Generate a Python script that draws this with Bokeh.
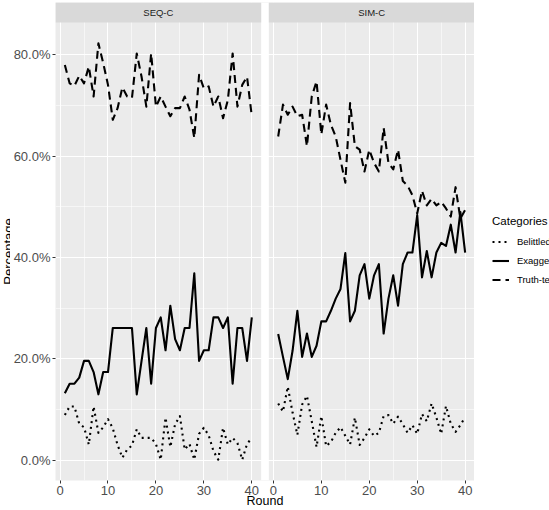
import math
from bokeh.plotting import figure
from bokeh.layouts import row
from bokeh.models import (Range1d, FixedTicker, NumeralTickFormatter, BoxAnnotation,
                          Label, Legend, LegendItem, ColumnDataSource)
from bokeh.embed import file_html
from bokeh.resources import INLINE

# ---------------- data ----------------
rounds = list(range(1, 41))
panels = ["SEQ-C", "SIM-C"]
categories = ["Belittled", "Exaggerated", "Truth-telling"]

seq_belittled = [8.9, 10.6, 10.6, 7.2, 6.5, 3.1, 10.6, 5.4, 6.5, 8.1,
                 6.3, 3.0, 0.5, 2.1, 2.9, 6.1, 4.4, 4.4, 4.4, 3.2,
                 0.1, 8.4, 2.6, 7.1, 8.7, 2.1, 3.2, 0.1, 5.2, 6.4,
                 4.9, 1.8, 0.1, 6.4, 3.1, 4.4, 3.4, 0.1, 3.2, 4.4]
seq_exaggerated = [13.2, 15.1, 15.1, 16.3, 19.6, 19.6, 17.4, 13.0, 17.4, 17.4,
                   26.1, 26.1, 26.1, 26.1, 26.1, 13.0, 19.6, 26.1, 15.1, 26.1,
                   28.2, 21.7, 30.5, 23.9, 21.7, 26.1, 26.1, 36.9, 19.6, 21.7,
                   21.7, 28.2, 28.2, 26.1, 28.2, 15.1, 26.1, 26.1, 19.6, 28.2]
seq_truth = [78.0, 74.4, 73.9, 75.9, 74.4, 77.7, 71.8, 82.3, 78.4, 74.1,
             67.2, 69.5, 73.6, 71.8, 71.5, 80.3, 75.7, 69.8, 80.3, 69.8,
             71.8, 69.8, 67.9, 69.5, 69.5, 71.8, 69.2, 63.6, 76.1, 73.4,
             73.8, 69.8, 71.8, 67.5, 71.1, 80.3, 69.8, 74.1, 75.7, 67.9]

sim_belittled = [11.2, 9.6, 14.5, 9.4, 5.0, 11.0, 12.7, 7.7, 2.6, 8.7,
                 2.8, 3.6, 5.4, 6.5, 4.8, 3.1, 8.4, 3.0, 4.4, 6.1,
                 4.8, 5.4, 8.7, 8.9, 7.2, 8.6, 7.1, 5.4, 6.9, 5.2,
                 9.1, 7.7, 11.2, 8.4, 5.2, 10.7, 7.2, 5.6, 6.9, 8.5]
sim_exaggerated = [24.9, 20.4, 16.0, 21.6, 29.5, 20.4, 25.0, 20.4, 22.6, 27.4,
                   27.4, 29.5, 31.9, 33.8, 40.9, 27.4, 29.5, 36.5, 38.7, 31.9,
                   36.5, 38.7, 25.0, 31.9, 36.5, 30.5, 38.7, 41.0, 41.0, 48.4,
                   36.1, 41.3, 36.1, 41.0, 42.9, 42.3, 46.5, 41.0, 49.0, 41.0]
sim_truth = [63.9, 70.2, 68.2, 69.8, 67.9, 68.2, 62.0, 71.8, 74.8, 64.3,
             70.2, 66.2, 63.9, 59.3, 54.8, 70.5, 62.0, 61.3, 57.0, 61.3,
             58.7, 57.0, 65.6, 58.7, 57.4, 61.3, 55.1, 54.2, 52.3, 48.7,
             53.2, 50.3, 51.6, 50.3, 51.0, 49.7, 48.1, 53.9, 47.7, 49.4]

x_major = [0, 10, 20, 30, 40]
x_minor = [5, 15, 25, 35]
y_major = [0.0, 0.2, 0.4, 0.6, 0.8]
y_minor = [0.1, 0.3, 0.5, 0.7]

series = {
    "SEQ-C": {"Belittled": seq_belittled, "Exaggerated": seq_exaggerated, "Truth-telling": seq_truth},
    "SIM-C": {"Belittled": sim_belittled, "Exaggerated": sim_exaggerated, "Truth-telling": sim_truth},
}
dash = {"Belittled": "2 4", "Exaggerated": "solid", "Truth-telling": "8 5"}
LW = 2.1

# ---------------- geometry ----------------
FONT = "Liberation Sans"
H = 510
YLAB_W = 10          # narrow strip holding the (clipped) y title
MAIN_W = 464         # panels figure
LEG_W = 75           # legend strip
B_LEFT, B_TOP, B_BOTTOM = 42, 2, 30
STRIP_PX = 20
frame_h = H - B_TOP - B_BOTTOM
panel_h = frame_h - STRIP_PX

allvals = [v / 100 for pn in panels for c in categories for v in series[pn][c]]
ymin, ymax = min(allvals), max(allvals)
ypad = 0.05 * (ymax - ymin)
y_lo, y_hi = ymin - ypad, ymax + ypad
unit_per_px = (y_hi - y_lo) / panel_h
y_top = y_hi + STRIP_PX * unit_per_px

xpad = 0.05 * (max(rounds) - min(rounds))
x_lo, x_hi = min(rounds) - xpad, max(rounds) + xpad
OFFSET = 44.5
x_end = OFFSET + x_hi

p = figure(width=MAIN_W, height=H, x_range=Range1d(x_lo, x_end), y_range=Range1d(y_lo, y_top),
           output_backend="svg", toolbar_location=None,
           min_border_left=B_LEFT, min_border_right=0,
           min_border_top=B_TOP, min_border_bottom=B_BOTTOM)
p.background_fill_color = "#EBEBEB"
p.border_fill_color = "white"
p.outline_line_color = None

for i, pn in enumerate(panels):
    off = i * OFFSET
    for cat in categories:
        src = ColumnDataSource(dict(x=[r + off for r in rounds],
                                    y=[v / 100 for v in series[pn][cat]]))
        p.line("x", "y", source=src, line_color="black", line_width=LW,
               line_dash=dash[cat], line_join="round")

# axes
tick_pos = [t + i * OFFSET for i in range(len(panels)) for t in x_major]
minor_pos = [t + i * OFFSET for i in range(len(panels)) for t in x_minor]
p.xaxis.ticker = FixedTicker(ticks=tick_pos, minor_ticks=[])
p.xaxis.major_label_overrides = {t + OFFSET: str(t) for t in x_major}
p.yaxis.ticker = FixedTicker(ticks=y_major, minor_ticks=y_minor)
p.yaxis.formatter = NumeralTickFormatter(format="0.0%")
for ax in (p.xaxis, p.yaxis):
    ax.axis_line_color = None
    ax.major_tick_line_color = "#333333"
    ax.major_tick_out = 3
    ax.major_tick_in = 0
    ax.minor_tick_line_color = None
    ax.major_label_text_color = "#4D4D4D"
    ax.major_label_text_font = FONT
    ax.major_label_text_font_size = "13px"
p.xaxis.major_label_standoff = 2
p.yaxis.major_label_standoff = 1
p.xaxis.axis_label = "Round"
p.xaxis.axis_label_text_font = FONT
p.xaxis.axis_label_text_font_size = "12.5px"
p.xaxis.axis_label_text_font_style = "normal"
p.xaxis.axis_label_text_color = "black"
p.xaxis.axis_label_standoff = -4

p.xgrid.ticker = FixedTicker(ticks=tick_pos, minor_ticks=minor_pos)
p.ygrid.ticker = FixedTicker(ticks=y_major, minor_ticks=y_minor)
for g in (p.xgrid, p.ygrid):
    g.grid_line_color = "white"
    g.grid_line_width = 1.1
    g.minor_grid_line_color = "white"
    g.minor_grid_line_width = 0.55

# gap between panels
p.add_layout(BoxAnnotation(left=x_hi, right=OFFSET + x_lo, bottom=y_lo, top=y_top,
                           fill_color="white", fill_alpha=1, line_color=None))
# strips
for i, pn in enumerate(panels):
    p.add_layout(BoxAnnotation(left=x_lo + i * OFFSET, right=x_hi + i * OFFSET,
                               bottom=y_hi, top=y_top, fill_color="#D9D9D9",
                               fill_alpha=1, line_color=None))
    p.add_layout(Label(x=(x_lo + x_hi) / 2 + i * OFFSET, y=(y_hi + y_top) / 2, text=pn,
                       text_align="center", text_baseline="middle",
                       text_font=FONT, text_font_size="9.5px", text_color="#1A1A1A"))

# side strips share the main frame's vertical extent (row aligns frames)
# ---------------- y title strip (clipped at the left edge like the reference) ----------------
pyl = figure(width=YLAB_W, height=H, x_range=(0, 1), y_range=(0, 1),
             output_backend="svg", toolbar_location=None,
             x_axis_location=None, y_axis_location=None, min_border=0)
pyl.outline_line_color = None
pyl.grid.visible = False
pyl.add_layout(Label(x=8, y=panel_h / 2, x_units="screen", y_units="screen",
                     text="Percentage", angle=math.pi / 2, text_align="center",
                     text_baseline="alphabetic",
                     text_font=FONT, text_font_size="13px", text_color="black"))

# ---------------- legend strip ----------------
pl = figure(width=LEG_W, height=H, x_range=(10, 11), y_range=(10, 11),
            output_backend="svg", toolbar_location=None,
            x_axis_location=None, y_axis_location=None, min_border=0)
pl.outline_line_color = None
pl.grid.visible = False
items = []
for cat in categories:
    rr = pl.line(x=[0, 1], y=[0, 0], line_color="black", line_width=LW, line_dash=dash[cat])
    items.append(LegendItem(label=cat, renderers=[rr]))
legend = Legend(items=items, title="Categories", location=(18, 192))
legend.title_text_font = FONT
legend.title_text_font_size = "11.5px"
legend.title_text_font_style = "normal"
legend.title_text_color = "black"
legend.title_standoff = 6
legend.label_text_font = FONT
legend.label_text_font_size = "9.5px"
legend.label_text_color = "black"
legend.glyph_width = 17
legend.glyph_height = 17
legend.label_height = 17
legend.label_standoff = 8
legend.spacing = 2
legend.padding = 0
legend.margin = 0
legend.border_line_color = None
legend.background_fill_alpha = 0
pl.add_layout(legend)

layout = row(pyl, p, pl)
open("out.html", "w").write(file_html(layout, INLINE))
